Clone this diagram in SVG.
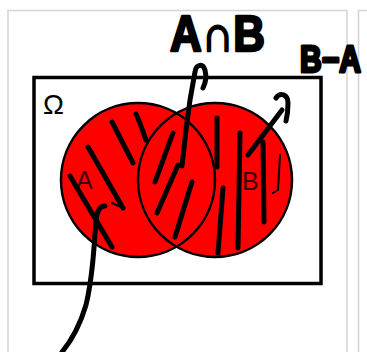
<svg xmlns="http://www.w3.org/2000/svg" width="367" height="352" viewBox="0 0 367 352">
  <style>
    .panel { fill: #ffffff; stroke: #d4d4d4; stroke-width: 1.5; }
    .set { fill: #ff0000; }
    .outline { fill: none; stroke: #000000; stroke-width: 2.5; }
    .frame { fill: none; stroke: #000000; stroke-width: 3.5; }
    .lbl { font-family: "Liberation Sans", Arial, sans-serif; }
    .hand { font-family: "Liberation Sans", Arial, sans-serif; font-weight: bold; fill: #000; stroke: #000; stroke-width: 2.5; stroke-linejoin: round; }
    .ink { fill: none; stroke: #000; stroke-width: 5; stroke-linecap: round; stroke-linejoin: round; }
    .thin { fill: none; stroke: #000; stroke-width: 2; stroke-linecap: round; stroke-linejoin: round; }
  </style>
  <rect width="367" height="352" fill="#ffffff"/>
  <g id="panels">
    <rect class="panel" x="8" y="10.5" width="339" height="360"/>
    <rect class="panel" x="358.5" y="10.5" width="40" height="360"/>
  </g>
  <g id="omega">
    <rect class="frame" x="34" y="77.5" width="287" height="206"/>
    <text class="lbl" x="43" y="114" font-size="28" fill="#000">Ω</text>
  </g>
  <g id="setA">
    <circle class="set" cx="138" cy="180" r="77"/>
  </g>
  <g id="setB">
    <circle class="set" cx="215" cy="180" r="77"/>
  </g>
  <g id="outlines">
    <circle class="outline" cx="138" cy="180" r="77"/>
    <circle class="outline" cx="215" cy="180" r="77"/>
    <text class="lbl" x="76" y="189" font-size="25" fill="#400000">A</text>
    <text class="lbl" x="242" y="190" font-size="25" fill="#400000">B</text>
  </g>
  <g id="hatching">
    <path class="ink" d="M70,176 L112,247"/>
    <path class="ink" d="M88,147 L123,208"/>
    <path class="thin" d="M123,208 L112,203"/>
    <path class="ink" d="M112,122 L133,163"/>
    <path class="ink" d="M136,114 C140,122 143,132 146,140"/>
    <path class="ink" d="M173,133 L155,182"/>
    <path class="ink" d="M178,165 L157,213"/>
    <path class="ink" d="M192,182 L175,237"/>
    <path class="ink" d="M217,118 L217,167"/>
    <path class="ink" d="M223,188 L218,253"/>
    <path class="ink" d="M240,133 L238,248"/>
    <path class="ink" d="M263,142 L264,222"/>
    <path class="thin" d="M280,155 L278,190 L273,193"/>
  </g>
  <g id="connectors">
    <path class="ink" d="M182,166 L186,130 L190,100 L195,72 C196,64 203,63 205,70 C207,78 205,84 203,88"/>
    <path class="ink" d="M248,155 L282,110"/>
    <path class="ink" d="M276,98 C280,92 288,94 288,103 C288,112 287,117 286,121"/>
    <path class="ink" d="M105,206 C100,206 97,210 96,220 C94,250 92,280 86,305 C80,325 72,340 62,352"/>
  </g>
  <g id="notes">
    <text class="hand" x="170" y="51" font-size="50" textLength="95" lengthAdjust="spacingAndGlyphs">A∩B</text>
    <text class="hand" transform="translate(300,72) scale(1,1.2)" x="0" y="0" font-size="30">B−A</text>
  </g>
</svg>
